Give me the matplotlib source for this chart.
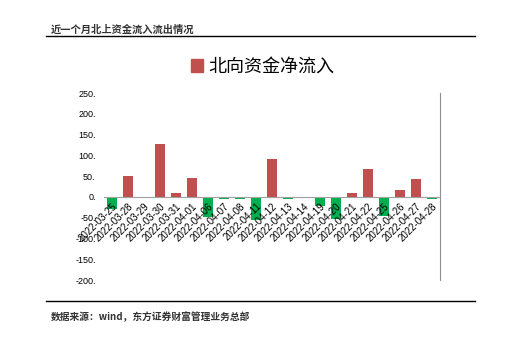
import matplotlib.pyplot as plt
from matplotlib.patches import Patch
from matplotlib.lines import Line2D

plt.rcParams['font.family'] = ['Noto Sans CJK SC', 'DejaVu Sans']

dates = ["2022-03-25", "2022-03-28", "2022-03-29", "2022-03-30", "2022-03-31",
         "2022-04-01", "2022-04-06", "2022-04-07", "2022-04-08", "2022-04-11",
         "2022-04-12", "2022-04-13", "2022-04-14", "2022-04-19", "2022-04-20",
         "2022-04-21", "2022-04-22", "2022-04-25", "2022-04-26", "2022-04-27",
         "2022-04-28"]
net_inflow = [-30, 51, -3, 128, 10, 45, -48, -5, -5, -56, 92, -5, 0, -21, -53,
              10, 68, -45, 17, 44, -5]
yticks = [-200, -150, -100, -50, 0, 50, 100, 150, 200, 250]

RED = "#C0504D"
GREEN = "#00B050"

fig = plt.figure(figsize=(5.14, 3.39), dpi=100)
ax = fig.add_axes([0.2023, 0.174, 0.6537, 0.5513])

# move x axis to zero first (set_position resets tick styling)
ax.spines["bottom"].set_position(("data", 0))
ax.spines["bottom"].set_color("#A0A0A0")
ax.spines["bottom"].set_zorder(3)
ax.spines["right"].set_color("#909090")
ax.spines["left"].set_visible(False)
ax.spines["top"].set_visible(False)

colors = [RED if v >= 0 else GREEN for v in net_inflow]
x = list(range(len(dates)))
# keep bars under the tick labels, like the original
ax.bar(x, net_inflow, width=0.62, color=colors, zorder=1)

ax.set_xlim(-0.5, len(dates) - 0.5)
ax.set_ylim(-200, 250)
ax.set_yticks(yticks)
ax.set_yticklabels([f"{v}." for v in yticks], fontsize=6.5, family="Liberation Sans")
ax.set_xticks(x)
ax.set_xticklabels(dates, rotation=45, ha="right", va="top", rotation_mode="anchor",
                   fontsize=7, family="Liberation Sans")
ax.tick_params(axis="both", length=0)
ax.tick_params(axis="x", pad=3)
ax.tick_params(axis="y", pad=6)

handle = Patch(color=RED, label="北向资金净流入")
fig.legend(handles=[handle], loc="center", bbox_to_anchor=(0.511, 0.802),
           frameon=False, fontsize=13, handlelength=0.7, handleheight=0.7,
           handletextpad=0.3)

# header and footer
fig.text(0.099, 0.912, "近一个月北上资金流入流出情况", fontsize=7.4, fontweight="bold",
         color="#333333", va="center")
fig.add_artist(Line2D([0.089, 0.924], [0.894, 0.894], color="black", lw=1.0))
fig.add_artist(Line2D([0.089, 0.924], [0.112, 0.112], color="black", lw=1.0))
fig.text(0.099, 0.066, "数据来源：wind，东方证券财富管理业务总部", fontsize=7,
         fontweight="bold", color="#333333", va="center")

fig.savefig("out.png", dpi=100)
